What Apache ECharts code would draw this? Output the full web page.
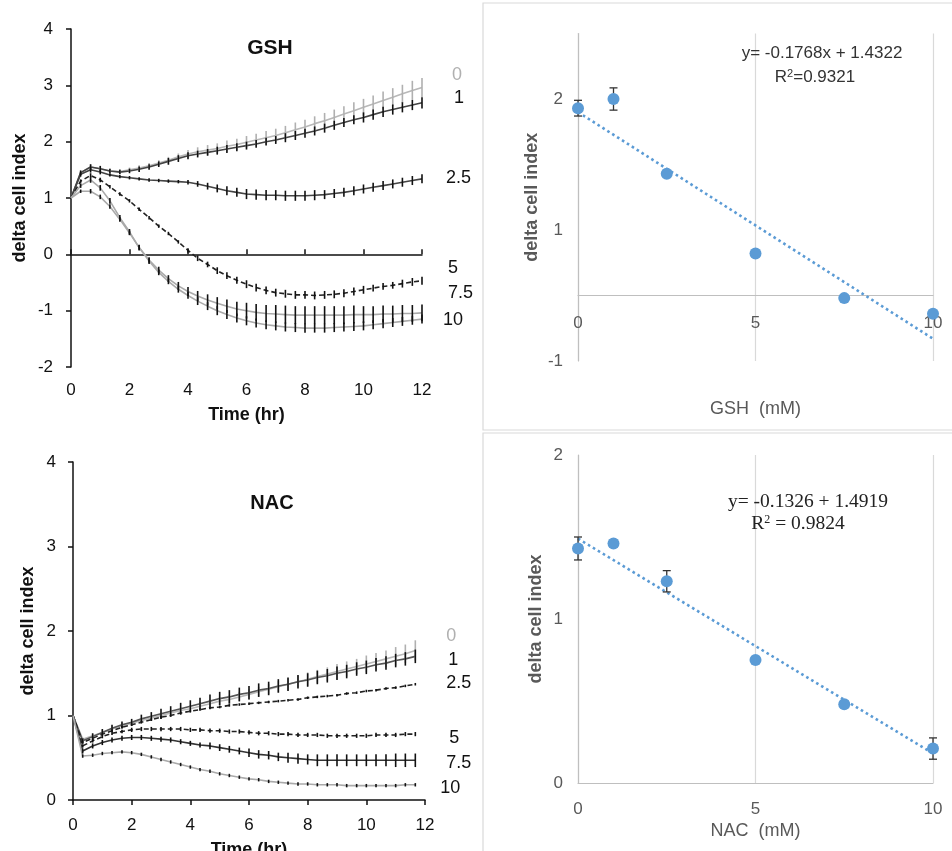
<!DOCTYPE html>
<html><head><meta charset="utf-8">
<script src="https://cdn.jsdelivr.net/npm/echarts@6/dist/echarts.min.js"></script>
<style>html,body{margin:0;padding:0;background:#fff}#c{width:952px;height:851px}</style>
</head><body><div id="c"></div><script>
// ---------- DATA ----------
const seriesNames = ['0','1','2.5','5','7.5','10'];
const timeTicks = [0,2,4,6,8,10,12];

const timesGSH = [0,0.33,0.67,1,1.33,1.67,2,2.33,2.67,3,3.33,3.67,4,4.33,4.67,5,5.33,5.67,6,6.33,6.67,7,7.33,7.67,8,8.33,8.67,9,9.33,9.67,10,10.33,10.67,11,11.33,11.67,12];
const gsh_0   = [1.00,1.45,1.55,1.52,1.48,1.47,1.50,1.53,1.57,1.62,1.67,1.73,1.78,1.82,1.85,1.88,1.92,1.95,1.99,2.03,2.07,2.11,2.16,2.21,2.26,2.32,2.37,2.43,2.49,2.55,2.61,2.67,2.73,2.79,2.85,2.91,2.96];
const gsh_1   = [1.00,1.45,1.55,1.52,1.48,1.46,1.48,1.51,1.55,1.60,1.65,1.70,1.75,1.78,1.81,1.84,1.87,1.90,1.93,1.96,2.00,2.03,2.07,2.11,2.15,2.19,2.24,2.29,2.34,2.39,2.43,2.48,2.53,2.57,2.61,2.65,2.69];
const gsh_2_5 = [1.00,1.42,1.50,1.46,1.41,1.38,1.36,1.34,1.32,1.31,1.30,1.29,1.28,1.25,1.21,1.17,1.13,1.10,1.07,1.06,1.05,1.05,1.04,1.04,1.04,1.05,1.06,1.08,1.10,1.13,1.16,1.19,1.22,1.25,1.28,1.31,1.34];
const gsh_5   = [1.00,1.30,1.40,1.32,1.20,1.07,0.95,0.80,0.65,0.50,0.37,0.22,0.07,-0.07,-0.18,-0.29,-0.38,-0.46,-0.53,-0.59,-0.64,-0.68,-0.70,-0.72,-0.72,-0.73,-0.72,-0.71,-0.69,-0.66,-0.63,-0.60,-0.57,-0.55,-0.52,-0.49,-0.47];
const gsh_7_5 = [1.00,1.22,1.32,1.18,0.95,0.65,0.40,0.12,-0.10,-0.28,-0.43,-0.56,-0.66,-0.74,-0.81,-0.87,-0.92,-0.97,-1.00,-1.03,-1.05,-1.06,-1.07,-1.08,-1.08,-1.08,-1.08,-1.08,-1.08,-1.07,-1.07,-1.07,-1.06,-1.06,-1.05,-1.05,-1.04];
const gsh_10  = [1.00,1.12,1.12,1.02,0.85,0.62,0.38,0.12,-0.12,-0.32,-0.48,-0.62,-0.73,-0.83,-0.92,-1.00,-1.07,-1.13,-1.18,-1.22,-1.25,-1.27,-1.29,-1.30,-1.31,-1.31,-1.31,-1.30,-1.29,-1.28,-1.27,-1.25,-1.23,-1.21,-1.19,-1.17,-1.15];

const gshErr_0   = [0,0.03,0.04,0.04,0.04,0.04,0.04,0.05,0.05,0.05,0.06,0.06,0.07,0.08,0.09,0.09,0.10,0.10,0.11,0.11,0.12,0.12,0.12,0.13,0.13,0.13,0.14,0.14,0.14,0.15,0.15,0.15,0.16,0.16,0.16,0.17,0.17];
const gshErr_1   = [0,0.04,0.05,0.05,0.04,0.04,0.04,0.05,0.05,0.05,0.06,0.06,0.06,0.06,0.06,0.07,0.07,0.07,0.07,0.07,0.07,0.07,0.08,0.08,0.08,0.08,0.08,0.08,0.08,0.08,0.09,0.09,0.09,0.09,0.09,0.09,0.10];
const gshErr_2_5 = [0,0.04,0.05,0.04,0.03,0.03,0.03,0.03,0.03,0.03,0.03,0.03,0.04,0.05,0.06,0.07,0.08,0.08,0.09,0.09,0.09,0.09,0.09,0.09,0.09,0.09,0.08,0.08,0.08,0.08,0.08,0.08,0.08,0.08,0.08,0.08,0.08];
const gshErr_5   = [0,0.03,0.04,0.04,0.03,0.03,0.03,0.03,0.03,0.03,0.03,0.03,0.04,0.05,0.05,0.06,0.06,0.06,0.07,0.07,0.07,0.07,0.07,0.07,0.07,0.07,0.07,0.07,0.07,0.07,0.07,0.06,0.06,0.06,0.07,0.07,0.07];
const gshErr_7_5 = [0,0.04,0.05,0.05,0.05,0.05,0.05,0.05,0.05,0.06,0.06,0.07,0.08,0.09,0.10,0.11,0.12,0.13,0.14,0.15,0.15,0.16,0.16,0.16,0.16,0.16,0.16,0.16,0.16,0.16,0.15,0.15,0.15,0.15,0.15,0.15,0.15];
const gshErr_10  = [0,0.03,0.04,0.04,0.04,0.04,0.04,0.04,0.05,0.05,0.05,0.06,0.06,0.07,0.07,0.08,0.08,0.08,0.08,0.08,0.08,0.08,0.08,0.08,0.08,0.08,0.08,0.08,0.08,0.08,0.08,0.08,0.08,0.08,0.08,0.08,0.08];

const timesNAC = [0,0.33,0.67,1,1.33,1.67,2,2.33,2.67,3,3.33,3.67,4,4.33,4.67,5,5.33,5.67,6,6.33,6.67,7,7.33,7.67,8,8.33,8.67,9,9.33,9.67,10,10.33,10.67,11,11.33,11.67];
const nac_0   = [1.00,0.72,0.76,0.80,0.84,0.88,0.91,0.94,0.97,1.00,1.03,1.06,1.08,1.11,1.14,1.17,1.19,1.22,1.25,1.28,1.31,1.34,1.37,1.40,1.43,1.46,1.49,1.52,1.55,1.58,1.61,1.64,1.67,1.70,1.73,1.77];
const nac_1   = [1.00,0.70,0.75,0.80,0.85,0.89,0.92,0.96,0.99,1.02,1.05,1.08,1.11,1.14,1.17,1.20,1.22,1.25,1.27,1.30,1.32,1.35,1.37,1.40,1.42,1.45,1.47,1.50,1.52,1.55,1.57,1.60,1.62,1.65,1.67,1.70];
const nac_2_5 = [1.00,0.68,0.73,0.78,0.82,0.86,0.89,0.92,0.95,0.98,1.00,1.03,1.05,1.07,1.09,1.10,1.12,1.13,1.14,1.15,1.16,1.17,1.18,1.19,1.21,1.22,1.23,1.24,1.26,1.27,1.29,1.30,1.32,1.33,1.35,1.37];
const nac_5   = [1.00,0.64,0.70,0.75,0.79,0.81,0.83,0.84,0.84,0.84,0.84,0.84,0.83,0.83,0.82,0.82,0.81,0.81,0.80,0.79,0.79,0.78,0.78,0.77,0.77,0.77,0.76,0.76,0.76,0.76,0.76,0.77,0.77,0.77,0.78,0.78];
const nac_7_5 = [1.00,0.58,0.64,0.68,0.71,0.73,0.74,0.74,0.73,0.72,0.71,0.69,0.67,0.65,0.64,0.62,0.60,0.58,0.56,0.54,0.53,0.51,0.50,0.49,0.48,0.47,0.47,0.47,0.47,0.47,0.47,0.47,0.47,0.47,0.47,0.47];
const nac_10  = [1.00,0.52,0.53,0.55,0.56,0.57,0.56,0.54,0.51,0.48,0.45,0.42,0.39,0.36,0.34,0.31,0.29,0.27,0.25,0.24,0.22,0.21,0.20,0.19,0.19,0.18,0.18,0.18,0.17,0.17,0.17,0.17,0.17,0.17,0.18,0.18];

const nacErr_0   = [0,0.02,0.02,0.03,0.03,0.03,0.03,0.03,0.03,0.03,0.04,0.04,0.04,0.05,0.05,0.05,0.05,0.06,0.06,0.06,0.06,0.07,0.07,0.07,0.08,0.08,0.08,0.09,0.09,0.09,0.10,0.10,0.10,0.11,0.11,0.12];
const nacErr_1   = [0,0.03,0.04,0.04,0.04,0.04,0.04,0.05,0.05,0.06,0.06,0.07,0.07,0.07,0.08,0.08,0.08,0.08,0.08,0.08,0.08,0.08,0.08,0.08,0.08,0.08,0.08,0.08,0.08,0.08,0.08,0.08,0.08,0.08,0.08,0.08];
const nacErr_2_5 = [0,0.015,0.015,0.015,0.015,0.015,0.015,0.015,0.015,0.015,0.015,0.015,0.015,0.015,0.015,0.015,0.015,0.015,0.015,0.015,0.015,0.015,0.015,0.015,0.015,0.015,0.015,0.015,0.015,0.015,0.015,0.015,0.015,0.015,0.015,0.015];
const nacErr_5   = [0,0.02,0.02,0.02,0.02,0.02,0.025,0.025,0.025,0.025,0.025,0.025,0.025,0.025,0.025,0.025,0.025,0.025,0.025,0.025,0.025,0.025,0.025,0.025,0.025,0.025,0.025,0.025,0.025,0.025,0.025,0.025,0.025,0.025,0.025,0.025];
const nacErr_7_5 = [0,0.03,0.03,0.03,0.03,0.03,0.03,0.03,0.03,0.03,0.03,0.03,0.03,0.03,0.04,0.04,0.04,0.04,0.05,0.05,0.05,0.05,0.06,0.06,0.06,0.07,0.07,0.07,0.07,0.07,0.07,0.07,0.07,0.08,0.08,0.08];
const nacErr_10  = [0,0.02,0.02,0.02,0.02,0.02,0.02,0.02,0.02,0.02,0.02,0.02,0.02,0.02,0.02,0.02,0.02,0.02,0.02,0.02,0.02,0.02,0.02,0.02,0.02,0.02,0.02,0.02,0.02,0.02,0.02,0.02,0.02,0.02,0.02,0.02];

const conc = [0,1,2.5,5,7.5,10];
const gshAt = [1.93,2.00,1.43,0.82,0.48,0.36];
const gshAtErr = [0.06,0.085,0.02,0.015,0.02,0.02];
const gshTrend = [[0,1.90],[10,0.17]];
const gshScatterYLabels = ['-1','1','2'];
const nacAt = [1.43,1.46,1.23,0.75,0.48,0.21];
const nacAtErr = [0.07,0.02,0.065,0.015,0.02,0.065];
const nacTrend = [[0,1.49],[10,0.18]];

// ---------- STYLE ----------
const SANS = 'Liberation Sans, Arial, sans-serif';
const SERIF = 'Liberation Serif, Times New Roman, serif';
const BLUE = '#5b9bd5';
const gshStyles = [
  {line:'#b8b8b8', err:'#b0b0b0', type:'solid', lab:'#b0b0b0', off:[22,-13]},
  {line:'#444',    err:'#111',    type:'solid', lab:'#111', off:[24,-5]},
  {line:'#444',    err:'#111',    type:'solid', lab:'#111', off:[16,-1]},
  {line:'#222',    err:'#111',    type:'dashed',lab:'#111', off:[18,-13]},
  {line:'#aaa',    err:'#111',    type:'solid', lab:'#111', off:[18,-20]},
  {line:'#aaa',    err:'#111',    type:'solid', lab:'#111', off:[13,1]}
];
const nacStyles = [
  {line:'#b8b8b8', err:'#b0b0b0', type:'solid', lab:'#b0b0b0', off:[23,-14]},
  {line:'#555',    err:'#111',    type:'solid', lab:'#111', off:[25,4]},
  {line:'#222',    err:'#111',    type:'dashed',lab:'#111', off:[23,-1]},
  {line:'#222',    err:'#111',    type:'dashed',lab:'#111', off:[26,4]},
  {line:'#333',    err:'#111',    type:'solid', lab:'#111', off:[23,3]},
  {line:'#aaa',    err:'#111',    type:'solid', lab:'#111', off:[17,3]}
];

function errBars(xIdx, yIdx, times, means, errs, color, capW, width) {
  return {
    type:'custom', xAxisIndex:xIdx, yAxisIndex:yIdx, silent:true, z:4,
    data: times.map((t,i)=>[t, means[i], errs[i]]),
    renderItem: (p, api) => {
      const x=api.value(0), y=api.value(1), e=api.value(2);
      if (!e) return {type:'group', children:[]};
      const a=api.coord([x,y-e]), b=api.coord([x,y+e]);
      const st={stroke:color, lineWidth:width};
      const ch=[{type:'line', shape:{x1:a[0],y1:a[1],x2:b[0],y2:b[1]}, style:st}];
      if (capW) {
        ch.push({type:'line', shape:{x1:a[0]-capW,y1:a[1],x2:a[0]+capW,y2:a[1]}, style:st});
        ch.push({type:'line', shape:{x1:b[0]-capW,y1:b[1],x2:b[0]+capW,y2:b[1]}, style:st});
      }
      return {type:'group', children:ch};
    }
  };
}

const series = [];
function addTimeCourse(xIdx, yIdx, times, meansList, errList, styles) {
  meansList.forEach((m, i) => {
    const s = styles[i];
    series.push({
      type:'line', name:seriesNames[i], xAxisIndex:xIdx, yAxisIndex:yIdx,
      data: times.map((t,k)=>[t,m[k]]), symbol:'none', z:3,
      lineStyle:{color:s.line, width:1.6, type: s.type==='dashed'?[5,3]:'solid'},
      endLabel:{show:true, formatter:seriesNames[i], offset:s.off, color:s.lab,
        fontSize:18, fontFamily:SANS}
    });
    series.push(errBars(xIdx, yIdx, times, m, errList[i], s.err, 0, 1.6));
  });
}
addTimeCourse(0, 0, timesGSH, [gsh_0,gsh_1,gsh_2_5,gsh_5,gsh_7_5,gsh_10],
  [gshErr_0,gshErr_1,gshErr_2_5,gshErr_5,gshErr_7_5,gshErr_10], gshStyles);
addTimeCourse(2, 1, timesNAC, [nac_0,nac_1,nac_2_5,nac_5,nac_7_5,nac_10],
  [nacErr_0,nacErr_1,nacErr_2_5,nacErr_5,nacErr_7_5,nacErr_10], nacStyles);

function addScatter(xIdx, yIdx, means, errs, trend) {
  series.push({type:'line', xAxisIndex:xIdx, yAxisIndex:yIdx, data:trend, symbol:'none', z:2,
    lineStyle:{color:BLUE, width:2.6, type:[2.6,3.2], cap:'butt'}});
  series.push(errBars(xIdx, yIdx, conc, means, errs, '#333', 4, 1.3));
  series.push({type:'scatter', xAxisIndex:xIdx, yAxisIndex:yIdx, data:conc.map((c,i)=>[c,means[i]]),
    symbol:'circle', symbolSize:12, itemStyle:{color:BLUE, opacity:1}, z:5});
}
addScatter(3, 2, gshAt, gshAtErr, gshTrend);
addScatter(4, 3, nacAt, nacAtErr, nacTrend);

const leftLabel = {color:'#111', fontSize:17, fontFamily:SANS};
const rightLabel = {color:'#595959', fontSize:17, fontFamily:SANS};
const leftName = {fontSize:18, fontWeight:'bold', color:'#111', fontFamily:SANS};
const rightName = {fontSize:18, fontWeight:'bold', color:'#595959', fontFamily:SANS};

const option = {
  animation:false,
  backgroundColor:'#fff',
  title:[
    {text:'GSH', left:265, top:33, textAlign:'center', textStyle:{fontSize:21, fontWeight:'bold', color:'#111', fontFamily:SANS}},
    {text:'NAC', left:267, top:488, textAlign:'center', textStyle:{fontSize:20, fontWeight:'bold', color:'#111', fontFamily:SANS}},
    {text:'y= -0.1768x + 1.4322', left:817, top:40, textAlign:'center', textStyle:{fontSize:17, fontWeight:'normal', color:'#333', fontFamily:SANS}},
    {text:'R{s|2}=0.9321', left:810, top:63, textAlign:'center', textStyle:{fontSize:17, fontWeight:'normal', color:'#333', fontFamily:SANS, rich:{s:{fontSize:11, verticalAlign:'top', color:'#333', padding:[0,0,7,0]}}}},
    {text:'y= -0.1326 + 1.4919', left:803, top:487, textAlign:'center', textStyle:{fontSize:19.5, fontWeight:'normal', color:'#222', fontFamily:SERIF}},
    {text:'R{s|2} = 0.9824', left:793, top:509, textAlign:'center', textStyle:{fontSize:19.5, fontWeight:'normal', color:'#222', fontFamily:SERIF, rich:{s:{fontSize:12, verticalAlign:'top', color:'#222', padding:[0,0,8,0], fontFamily:SERIF}}}}
  ],
  graphic:[
    {type:'rect', z:-1, shape:{x:483, y:3, width:480, height:427}, style:{fill:'none', stroke:'#d9d9d9', lineWidth:1.2}},
    {type:'rect', z:-1, shape:{x:483, y:433, width:480, height:430}, style:{fill:'none', stroke:'#d9d9d9', lineWidth:1.2}}
  ],
  grid:[
    {left:71, top:29, width:351, height:338, outerBoundsMode:'none', containLabel:false},
    {left:73, top:462, width:352, height:338, outerBoundsMode:'none', containLabel:false},
    {left:578, top:33.5, width:355, height:327.5, outerBoundsMode:'none', containLabel:false},
    {left:578, top:455, width:355, height:328, outerBoundsMode:'none', containLabel:false}
  ],
  xAxis:[
    {gridIndex:0, type:'value', min:0, max:12, interval:2,
      axisLine:{show:false, onZero:false}, axisTick:{show:false}, splitLine:{show:false},
      axisLabel:Object.assign({margin:15}, leftLabel),
      name:'Time (hr)', nameLocation:'middle', nameGap:39, nameTextStyle:leftName},
    {gridIndex:0, type:'value', min:0, max:12, interval:2,
      axisLine:{show:true, onZero:true, lineStyle:{color:'#111', width:1.5}},
      axisTick:{show:true, length:5, lineStyle:{color:'#111', width:1.5}},
      axisLabel:{show:false}, splitLine:{show:false}},
    {gridIndex:1, type:'value', min:0, max:12, interval:2,
      axisLine:{show:true, onZero:false, lineStyle:{color:'#111', width:1.5}},
      axisTick:{show:true, length:5, lineStyle:{color:'#111', width:1.5}},
      axisLabel:Object.assign({margin:17}, leftLabel), splitLine:{show:false},
      name:'Time (hr)', nameLocation:'middle', nameGap:41, nameTextStyle:leftName},
    {gridIndex:2, type:'value', min:0, max:10, interval:5, offset:-66,
      axisLine:{show:true, onZero:false, lineStyle:{color:'#bfbfbf', width:1.2}},
      axisTick:{show:false}, axisLabel:Object.assign({margin:20}, rightLabel),
      splitLine:{show:true, lineStyle:{color:'#d9d9d9', width:1.2}},
      name:'GSH  (mM)', nameLocation:'middle', nameGap:105,
      nameTextStyle:{fontSize:18, color:'#595959', fontFamily:SANS}},
    {gridIndex:3, type:'value', min:0, max:10, interval:5,
      axisLine:{show:true, onZero:false, lineStyle:{color:'#bfbfbf', width:1.2}},
      axisTick:{show:false}, axisLabel:Object.assign({margin:18}, rightLabel),
      splitLine:{show:true, lineStyle:{color:'#d9d9d9', width:1.2}},
      name:'NAC  (mM)', nameLocation:'middle', nameGap:39,
      nameTextStyle:{fontSize:18, color:'#595959', fontFamily:SANS}}
  ],
  yAxis:[
    {gridIndex:0, type:'value', min:-2, max:4, interval:1,
      axisLine:{show:true, onZero:false, lineStyle:{color:'#111', width:1.5}},
      axisTick:{show:true, length:5, lineStyle:{color:'#111', width:1.5}},
      axisLabel:Object.assign({margin:18}, leftLabel), splitLine:{show:false},
      name:'delta cell index', nameLocation:'middle', nameGap:42, nameTextStyle:leftName},
    {gridIndex:1, type:'value', min:0, max:4, interval:1,
      axisLine:{show:true, onZero:false, lineStyle:{color:'#111', width:1.5}},
      axisTick:{show:true, length:5, lineStyle:{color:'#111', width:1.5}},
      axisLabel:Object.assign({margin:17}, leftLabel), splitLine:{show:false},
      name:'delta cell index', nameLocation:'middle', nameGap:36, nameTextStyle:leftName},
    {gridIndex:2, type:'value', min:0, max:2.5, interval:1,
      axisLine:{show:true, onZero:false, lineStyle:{color:'#bfbfbf', width:1.2}},
      axisTick:{show:false}, splitLine:{show:false},
      axisLabel:Object.assign({margin:15, formatter:v => (Number.isInteger(v) && gshScatterYLabels[v] !== undefined) ? gshScatterYLabels[v] : ''}, rightLabel),
      name:'delta cell index', nameLocation:'middle', nameGap:37, nameTextStyle:rightName},
    {gridIndex:3, type:'value', min:0, max:2, interval:1,
      axisLine:{show:true, onZero:false, lineStyle:{color:'#bfbfbf', width:1.2}},
      axisTick:{show:false}, splitLine:{show:false},
      axisLabel:Object.assign({margin:15}, rightLabel),
      name:'delta cell index', nameLocation:'middle', nameGap:33, nameTextStyle:rightName}
  ],
  series: series
};
const chart = echarts.init(document.getElementById('c'), null, {renderer:'canvas'});
chart.setOption(option);
</script></body></html>
